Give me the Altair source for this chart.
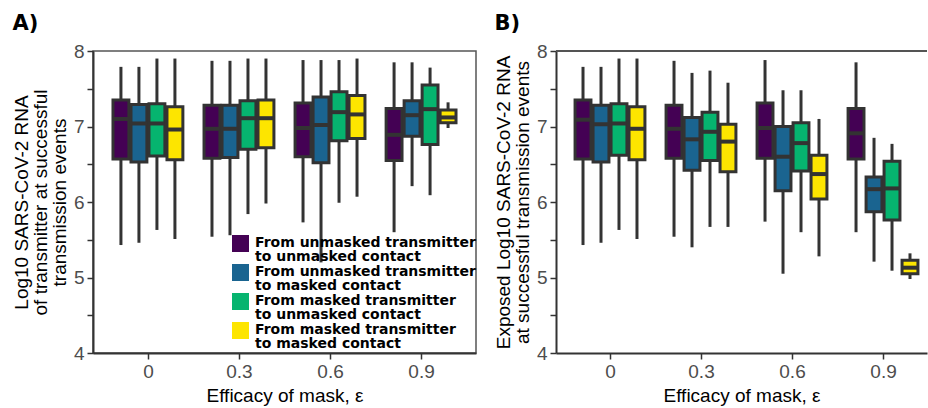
import altair as alt
import pandas as pd

# ---- data ----------------------------------------------------------------
efficacy = [0, 0.3, 0.6, 0.9]
series = [
    "From unmasked transmitter to unmasked contact",
    "From unmasked transmitter to masked contact",
    "From masked transmitter to unmasked contact",
    "From masked transmitter to masked contact",
]
colors = ["#440154", "#1a6490", "#06b46f", "#fde500"]

# values ordered: efficacy 0 (4 series), 0.3 (4 series), 0.6, 0.9
a_lo  = [5.43, 5.46, 5.63, 5.51,  5.54, 5.56, 5.84, 5.98,  5.73, 5.20, 5.99, 6.07,  5.60, 6.21, 6.09, 6.98]
a_q1  = [6.57, 6.53, 6.61, 6.56,  6.58, 6.59, 6.70, 6.72,  6.60, 6.52, 6.81, 6.84,  6.55, 6.87, 6.76, 7.05]
a_med = [7.10, 7.04, 7.04, 6.96,  6.97, 6.97, 7.11, 7.11,  6.98, 7.02, 7.19, 7.16,  6.89, 7.15, 7.23, 7.12]
a_q3  = [7.35, 7.29, 7.30, 7.26,  7.28, 7.28, 7.34, 7.35,  7.31, 7.39, 7.46, 7.41,  7.24, 7.34, 7.55, 7.22]
a_hi  = [7.79, 7.79, 7.90, 7.90,  7.87, 7.87, 7.90, 7.90,  7.88, 7.88, 7.88, 7.90,  7.85, 7.85, 7.78, 7.32]

b_lo  = [5.43, 5.46, 5.63, 5.51,  5.54, 5.40, 5.67, 5.67,  5.74, 5.05, 5.60, 5.28,  5.60, 5.21, 5.09, 4.98]
b_q1  = [6.57, 6.53, 6.62, 6.56,  6.58, 6.42, 6.55, 6.40,  6.58, 6.15, 6.41, 6.04,  6.57, 5.87, 5.76, 5.05]
b_med = [7.09, 7.03, 7.04, 6.97,  6.97, 6.83, 6.93, 6.80,  6.98, 6.60, 6.78, 6.37,  6.91, 6.17, 6.18, 5.13]
b_q3  = [7.35, 7.28, 7.30, 7.26,  7.28, 7.12, 7.19, 7.03,  7.31, 7.00, 7.05, 6.62,  7.24, 6.33, 6.54, 5.23]
b_hi  = [7.79, 7.79, 7.90, 7.90,  7.87, 7.71, 7.74, 7.58,  7.88, 7.48, 7.48, 7.10,  7.85, 6.85, 6.77, 5.32]

y_ticks = [4, 4.5, 5, 5.5, 6, 6.5, 7, 7.5, 8]


def table(lo, q1, med, q3, hi):
    rows = []
    k = 0
    for e in efficacy:
        for i, s in enumerate(series):
            rows.append(dict(efficacy=e, series=s, idx=i, lo=lo[k], q1=q1[k],
                             med=med[k], q3=q3[k], hi=hi[k]))
            k += 1
    return pd.DataFrame(rows)


df_a = table(a_lo, a_q1, a_med, a_q3, a_hi)
df_b = table(b_lo, b_q1, b_med, b_q3, b_hi)
df_leg = pd.DataFrame({"series": series,
                       "label": [s.replace(" to ", "|to ") for s in series]})

STEP = 0.0593   # dodge between boxes (x units)
HALF = 0.0262   # half box width (x units)
DARK = "#333333"
color_scale = alt.Scale(domain=series, range=colors)


def panel(df, letter, ytitle, domain, width, border, with_legend):
    xs = alt.Scale(domain=domain, nice=False, zero=False)
    ys = alt.Scale(domain=[4, 8], nice=False, zero=False)
    xax = alt.Axis(values=efficacy, title="Efficacy of mask, ε", format="~g",
                   titlePadding=5)
    yax = alt.Axis(values=y_ticks, title=ytitle, format="~g",
                   labelExpr="datum.value % 1 == 0 ? datum.label : ''")

    def X(f):
        return alt.X(f, type="quantitative", scale=xs, axis=xax)

    def Y(f):
        return alt.Y(f, type="quantitative", scale=ys, axis=yax)

    base = alt.Chart(df).transform_calculate(
        pos=f"datum.efficacy + (datum.idx - 1.5) * {STEP}",
    ).transform_calculate(
        left=f"datum.pos - {HALF}", right=f"datum.pos + {HALF}"
    )
    whisker = base.mark_rule(color=DARK, strokeWidth=3).encode(
        x=X("pos"), y=Y("lo"), y2="hi:Q")
    box = base.mark_bar(stroke=DARK, strokeWidth=3, opacity=1).encode(
        x=X("left"), x2="right:Q", y=Y("q1"), y2="q3:Q",
        color=alt.Color("series:N", scale=color_scale, legend=None))
    med = base.mark_rule(color=DARK, strokeWidth=4).encode(
        x=X("left"), x2="right:Q", y=Y("med"))
    layers = [whisker, box, med]
    if not border:
        top = alt.Chart(df).mark_rule(color="#555555", strokeWidth=1.5).encode(
            y=alt.Y(datum=8, scale=ys, axis=yax))
        layers.append(top)
    ch = alt.layer(*layers)
    if with_legend:
        ly = alt.Y("series:N", sort=series, axis=None,
                   scale=alt.Scale(range=[192.5, 279.5], padding=0))
        sym = alt.Chart(df_leg).mark_square(size=289, opacity=1).encode(
            x=alt.value(147.5), y=ly,
            color=alt.Color("series:N", scale=color_scale, legend=None))
        txt = alt.Chart(df_leg).mark_text(
            align="left", baseline="middle", lineBreak="|", lineHeight=14.5,
            font="DejaVu Sans", fontWeight="bold", fontSize=14, color="black",
            dy=-1).encode(x=alt.value(162), y=ly, text="label:N")
        ch = alt.layer(ch, alt.layer(sym, txt)).resolve_scale(y="independent")
    ch = ch.properties(
        width=width, height=302,
        title=alt.TitleParams(letter, anchor="start", frame="bounds",
                              font="DejaVu Sans", fontSize=21,
                              fontWeight="bold", color="black", offset=8),
    )
    if not border:
        ch = ch.properties(view=alt.ViewBackground(stroke=None))
    return ch


pa = panel(df_a, "A)", ["Log10 SARS-CoV-2 RNA", "of transmitter at successful",
                        "transmission events"], [-0.181, 1.081], 383, True, True)
pb = panel(df_b, "B)", ["Exposed Log10 SARS-CoV-2 RNA",
                        "at successful transmission events"], [-0.178, 1.045], 371,
           False, False)

chart = alt.hconcat(pa, pb, spacing=17).resolve_scale(
    x="independent", y="independent"
).properties(
    padding={"left": 11, "top": 12, "right": 0, "bottom": 0},
    background="white",
).configure_view(
    stroke="#555555", strokeWidth=1.5
).configure_axis(
    grid=False, labelFont="Liberation Sans", titleFont="Liberation Sans",
    labelFontSize=19, labelColor="#4d4d4d", titleFontSize=19,
    titleColor="black", titleFontWeight="normal", titleLineHeight=19,
    tickColor=DARK, tickWidth=1.5, tickSize=6, domainColor=DARK,
    domainWidth=2, labelPadding=3, titlePadding=4,
)

chart.save("out.html", embed_options={"renderer": "svg", "actions": False})
